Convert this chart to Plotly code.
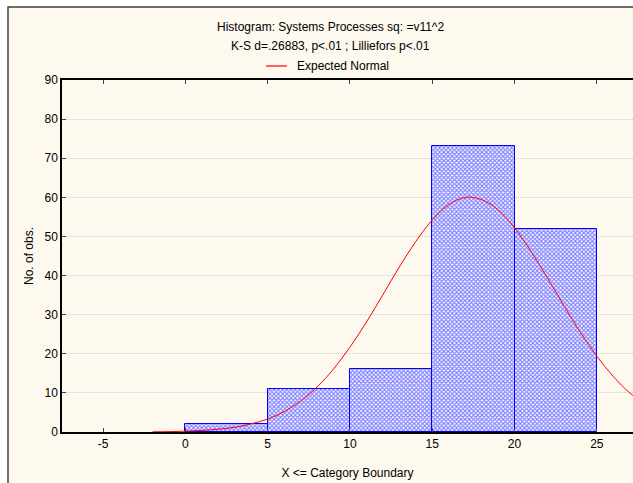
import plotly.graph_objects as go

# Histogram data (bin upper boundaries and counts)
bin_edges = [0, 5, 10, 15, 20, 25]
counts = [2, 11, 16, 73, 52]

# Expected normal curve
curve_x = [-2, -1, 0, 1, 2, 3, 4, 5, 6, 7, 8, 9, 10, 11, 12, 13, 14, 15, 16, 17,
           18, 19, 20, 21, 22, 23, 24, 25, 26, 27, 28]
curve_y = [0.05, 0.1, 0.2, 0.4, 0.7, 1.2, 2.1, 3.3, 5.2, 7.9, 11.5, 16.1, 21.7, 28.1,
           35.1, 42.2, 48.7, 54.2, 58.1, 60.0, 59.4, 56.8, 52.2, 46.2, 39.4, 32.3,
           25.5, 19.4, 14.2, 10.0, 6.8]

x_ticks = [-5, 0, 5, 10, 15, 20, 25]
x_tick_labels = ["-5", "0", "5", "10", "15", "20", "25"]
y_ticks = [0, 10, 20, 30, 40, 50, 60, 70, 80, 90]

title_lines = ["Histogram: Systems Processes sq: =v11^2",
               "K-S d=.26883, p<.01 ; Lilliefors p<.01"]
legend_label = "Expected Normal"

centers = [(bin_edges[i] + bin_edges[i + 1]) / 2 for i in range(len(counts))]
widths = [bin_edges[i + 1] - bin_edges[i] for i in range(len(counts))]

FONT = "Liberation Sans, Arial, sans-serif"
W, H = 633, 483
L, R, T, B = 62, 0, 80, 51
PW, PH = W - L - R, H - T - B


def px_x(p):
    return (p - L) / PW


def px_y(p):
    return (H - B - p) / PH


fig = go.Figure()
fig.add_trace(go.Bar(
    x=centers, y=counts, width=widths,
    marker=dict(color="white",
                line=dict(color="#0000ff", width=1),
                pattern=dict(shape="x", fgcolor="#0000ff", bgcolor="white",
                             size=3, solidity=0.6)),
    showlegend=False, hoverinfo="x+y",
))
fig.add_trace(go.Scatter(
    x=curve_x, y=curve_y, mode="lines", line=dict(color="#ff0000", width=1, shape="spline"),
    showlegend=False, name=legend_label,
))

# outer cream frame
fig.add_shape(type="rect", xref="paper", yref="paper", layer="below",
              x0=px_x(8), x1=px_x(W + 20), y0=px_y(H + 20), y1=px_y(7),
              line=dict(color="#404040", width=1.5), fillcolor="#fdf9ef")

# title lines
for i, t in enumerate(title_lines):
    fig.add_annotation(x=px_x(330), y=px_y(27 + 19.5 * i),
                       xref="paper", yref="paper", text=t, showarrow=False,
                       font=dict(family=FONT, size=12, color="black"),
                       xanchor="center", yanchor="middle")

# legend
ly = px_y(66)
fig.add_shape(type="line", xref="paper", yref="paper",
              x0=px_x(266), x1=px_x(287), y0=ly, y1=ly,
              line=dict(color="#ff0000", width=1.2))
fig.add_annotation(x=px_x(295), y=ly, xref="paper", yref="paper",
                   text=legend_label, showarrow=False,
                   font=dict(family=FONT, size=12, color="black"),
                   xanchor="left", yanchor="middle")

fig.update_layout(
    width=W, height=H,
    margin=dict(l=L, r=R, t=T, b=B, autoexpand=False),
    paper_bgcolor="white", plot_bgcolor="white",
    font=dict(family=FONT, size=12, color="black"),
    bargap=0,
    xaxis=dict(range=[-7.5, 27.2], tickvals=x_ticks, ticktext=x_tick_labels,
               ticks="inside", ticklen=4, automargin=False,
               showline=True, linecolor="black", linewidth=1.5, mirror="ticks",
               showgrid=False, zeroline=False,
               title=dict(text="X <= Category Boundary", standoff=18,
                          font=dict(family=FONT, size=12))),
    yaxis=dict(range=[0, 90], tickvals=y_ticks, ticks="inside", ticklen=4,
               automargin=False,
               showline=True, linecolor="black", linewidth=1.5,
               showgrid=True, gridcolor="#cfcfcf", griddash="1px,1px", gridwidth=1,
               zeroline=False,
               title=dict(text="No. of obs.", standoff=8,
                          font=dict(family=FONT, size=12))),
)

fig.write_html(
    "out.html",
    config={"displayModeBar": False},
    post_script="document.body.style.margin='0px';document.body.style.overflow='hidden';",
)
